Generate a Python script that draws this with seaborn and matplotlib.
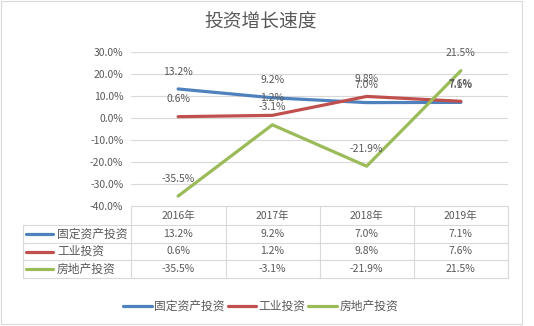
import matplotlib
matplotlib.use("Agg")
import matplotlib.pyplot as plt
from matplotlib.lines import Line2D
from matplotlib.patches import Rectangle
import seaborn as sns
import pandas as pd

years = ["2016年", "2017年", "2018年", "2019年"]
series_names = ["固定资产投资", "工业投资", "房地产投资"]
fixed_asset = [13.2, 9.2, 7.0, 7.1]
industrial = [0.6, 1.2, 9.8, 7.6]
real_estate = [-35.5, -3.1, -21.9, 21.5]
yticks = [30, 20, 10, 0, -10, -20, -30, -40]
colors = ["#4F81BD", "#C0504D", "#9BBB59"]
title = "投资增长速度"

sns.set_style("white")
plt.rcParams['font.family'] = ['Noto Sans CJK SC', 'DejaVu Sans']
TXT = "#595959"
GRID = "#D9D9D9"

W, H = 534, 326
fig = plt.figure(figsize=(W / 100, H / 100), dpi=100)

def fx(px):
    return px / W

def fy(py):
    return 1 - py / H

# chart frame
fig.patches.append(Rectangle((fx(1), fy(324)), fx(521), 323 / H, transform=fig.transFigure,
                             fill=False, edgecolor=GRID, lw=0.8))

ax = fig.add_axes([fx(131), fy(206), fx(508 - 131), (206 - 52) / H])
values = [fixed_asset, industrial, real_estate]
rows = []
for name, vals in zip(series_names, values):
    for i, v in enumerate(vals):
        rows.append({"x": i, "value": v, "series": name})
df = pd.DataFrame(rows)
sns.lineplot(data=df, x="x", y="value", hue="series", hue_order=series_names,
             palette=colors, linewidth=2.3, legend=False, ax=ax, sort=False)

ax.set_xlim(-0.5, 3.5)
ax.set_ylim(-40, 30)
ax.set_yticks(yticks)
ax.set_yticklabels([f"{t:.1f}%" for t in yticks], color=TXT, fontsize=7.5)
ax.tick_params(axis='y', length=0, pad=5.5)
ax.set_xticks([])
ax.set_xlabel("")
ax.set_ylabel("")
for sp in ax.spines.values():
    sp.set_visible(False)
ax.grid(axis='y', color=GRID, lw=0.8)
ax.set_axisbelow(True)

for vals in values:
    for i, v in enumerate(vals):
        ax.annotate(f"{v:.1f}%", (i, v), xytext=(0, 12.5), textcoords="offset points",
                    ha="center", va="center", fontsize=7.5, color=TXT)

fig.text(fx(261), fy(22), title, ha="center", va="center", fontsize=13.5, color=TXT)

# data table
col_x = [131, 225.5, 319.5, 413.5, 508]
row_y = [206, 225, 243, 260, 278]
lkw = dict(color=GRID, lw=0.8, transform=fig.transFigure)
fig.add_artist(Line2D([fx(131), fx(508)], [fy(206), fy(206)], **lkw))
for yy in row_y[1:]:
    fig.add_artist(Line2D([fx(23), fx(508)], [fy(yy), fy(yy)], **lkw))
for xx in col_x:
    fig.add_artist(Line2D([fx(xx), fx(xx)], [fy(206), fy(278)], **lkw))
fig.add_artist(Line2D([fx(23), fx(23)], [fy(225), fy(278)], **lkw))

for j, yr in enumerate(years):
    cx = (col_x[j] + col_x[j + 1]) / 2
    fig.text(fx(cx), fy(215.5), yr, ha="center", va="center", fontsize=7.5, color=TXT)
for r, (name, vals, c) in enumerate(zip(series_names, values, colors)):
    cy = (row_y[r + 1] + row_y[r + 2]) / 2
    fig.add_artist(Line2D([fx(26), fx(53)], [fy(cy), fy(cy)], color=c, lw=2.3,
                          transform=fig.transFigure))
    fig.text(fx(57), fy(cy), name, ha="left", va="center", fontsize=8.5, color=TXT)
    for j, v in enumerate(vals):
        cx = (col_x[j] + col_x[j + 1]) / 2
        fig.text(fx(cx), fy(cy), f"{v:.1f}%", ha="center", va="center", fontsize=7.5, color=TXT)

# bottom legend
leg = [(123, 152, 154), (228, 256, 258), (308, 337, 340)]
for (x0, x1, tx), name, c in zip(leg, series_names, colors):
    fig.add_artist(Line2D([fx(x0), fx(x1)], [fy(306), fy(306)], color=c, lw=2.3,
                          transform=fig.transFigure))
    fig.text(fx(tx), fy(306), name, ha="left", va="center", fontsize=8.5, color=TXT)

fig.savefig("out.png", dpi=100)
